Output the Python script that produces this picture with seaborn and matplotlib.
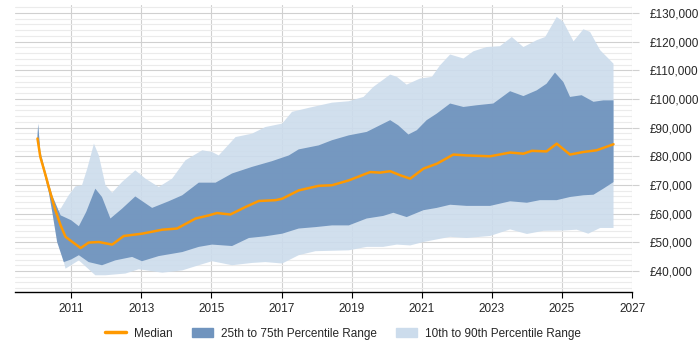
import numpy as np
import seaborn as sns
import matplotlib.pyplot as plt
import matplotlib.ticker as mticker
from matplotlib.patches import Patch
from matplotlib.lines import Line2D

sns.set_style("white")
plt.rcParams['font.family'] = ['Liberation Sans', 'DejaVu Sans']

# median salary
med_x = [2010.04, 2010.12, 2010.27, 2010.36, 2010.55, 2010.7, 2010.84, 2011.27, 2011.5, 2011.79,
         2012.17, 2012.5, 2013.02, 2013.6, 2014.02, 2014.55, 2014.93, 2015.16, 2015.54, 2015.97,
         2016.35, 2016.83, 2017.02, 2017.49, 2018.06, 2018.44, 2018.92, 2019.53, 2019.81, 2020.1,
         2020.38, 2020.67, 2021.05, 2021.43, 2021.9, 2022.28, 2022.95, 2023.52, 2023.9, 2024.14,
         2024.56, 2024.85, 2025.23, 2025.61, 2025.99, 2026.47]
med_y = [86200, 79800, 73400, 69300, 61200, 55900, 51900, 48000, 49900, 50100,
         49200, 52200, 53000, 54400, 54800, 58300, 59400, 60200, 59700, 62300,
         64400, 64700, 65200, 68100, 69700, 69900, 71600, 74500, 74300, 74800,
         73400, 72200, 75700, 77400, 80600, 80300, 80000, 81300, 80900, 81900,
         81700, 84400, 80600, 81500, 82100, 84200]

# 75th percentile
p75_x = [2010.04, 2010.06, 2010.12, 2010.27, 2010.46, 2010.7, 2011.0, 2011.22, 2011.43, 2011.69,
         2011.88, 2012.12, 2012.45, 2012.83, 2013.31, 2013.78, 2014.17, 2014.64, 2015.12, 2015.59,
         2016.16, 2016.73, 2017.21, 2017.49, 2018.06, 2018.44, 2018.92, 2019.43, 2020.1, 2020.33,
         2020.62, 2020.86, 2021.14, 2021.43, 2021.81, 2022.19, 2022.57, 2023.04, 2023.52, 2023.9,
         2024.28, 2024.56, 2024.8, 2025.04, 2025.23, 2025.56, 2025.9, 2026.18, 2026.47]
p75_y = [87000, 91400, 81500, 74500, 66400, 59400, 57700, 55600, 60600, 68700,
         65800, 58300, 61700, 66000, 62000, 64300, 66400, 70800, 70800, 74000,
         76300, 78300, 80300, 82400, 83800, 85600, 87300, 88500, 92600, 90800,
         87600, 89100, 92600, 94900, 98400, 97200, 97800, 98400, 102700, 101000,
         103000, 105300, 109200, 105900, 100700, 101300, 99000, 99500, 99500]

# 25th percentile
p25_x = [2010.04, 2010.17, 2010.36, 2010.46, 2010.6, 2010.79, 2011.0, 2011.22, 2011.5, 2011.88,
         2012.26, 2012.74, 2013.02, 2013.5, 2014.17, 2014.64, 2015.02, 2015.59, 2016.07, 2016.54,
         2017.02, 2017.49, 2017.97, 2018.44, 2018.92, 2019.43, 2019.9, 2020.19, 2020.57, 2021.05,
         2021.43, 2021.81, 2022.28, 2022.95, 2023.52, 2024.0, 2024.37, 2024.85, 2025.23, 2025.61,
         2025.9, 2026.18, 2026.47]
p25_y = [86000, 76900, 67600, 60600, 50100, 43100, 44000, 45500, 43100, 42000,
         43700, 44900, 43400, 45200, 46600, 48400, 49200, 48700, 51500, 52100,
         53000, 54800, 55300, 55900, 55900, 58300, 59200, 60300, 58800, 61200,
         62000, 63100, 62700, 62700, 64300, 63800, 64700, 64700, 65800, 66400,
         66600, 68700, 71000]

# 90th percentile
p90_x = [2010.04, 2010.06, 2010.12, 2010.36, 2010.6, 2010.7, 2010.93, 2011.12, 2011.31, 2011.46,
         2011.65, 2011.79, 2011.98, 2012.17, 2012.45, 2012.83, 2013.12, 2013.5, 2013.88, 2014.26,
         2014.74, 2015.02, 2015.21, 2015.69, 2016.16, 2016.54, 2017.02, 2017.3, 2017.78, 2018.44,
         2018.92, 2019.34, 2019.62, 2020.1, 2020.29, 2020.57, 2020.95, 2021.29, 2021.52, 2021.81,
         2022.19, 2022.47, 2022.85, 2023.23, 2023.57, 2023.9, 2024.28, 2024.52, 2024.85, 2025.04,
         2025.33, 2025.61, 2025.8, 2026.09, 2026.47]
p90_y = [87000, 90800, 82100, 69900, 60600, 61700, 66400, 69500, 69900, 75700,
         84400, 80300, 69900, 67300, 71000, 75100, 72200, 69300, 72200, 78600,
         82100, 81500, 80300, 86700, 87900, 90200, 91400, 95500, 96900, 98700,
         99200, 100700, 104200, 108500, 107700, 105000, 107100, 107700, 111700, 115500,
         114100, 116600, 118100, 118400, 121600, 118100, 120500, 121600, 128600, 126900,
         120100, 124300, 123400, 117000, 112300]

# 10th percentile
p10_x = [2010.04, 2010.27, 2010.46, 2010.6, 2010.84, 2011.22, 2011.69, 2011.98, 2012.55, 2012.93,
         2013.6, 2014.17, 2014.64, 2015.02, 2015.59, 2016.16, 2016.54, 2017.02, 2017.49, 2017.97,
         2018.92, 2019.43, 2019.9, 2020.29, 2020.67, 2021.05, 2021.43, 2021.81, 2022.28, 2022.95,
         2023.52, 2024.0, 2024.47, 2025.04, 2025.42, 2025.75, 2026.09, 2026.47]
p10_y = [86000, 72200, 62900, 52400, 40800, 43700, 38500, 38500, 39100, 40600,
         39400, 40200, 42000, 43400, 42000, 42800, 43100, 42600, 45500, 46900,
         47200, 48400, 48400, 49200, 48900, 50100, 51000, 51900, 51500, 52200,
         54500, 52900, 54000, 54100, 54400, 53000, 55000, 55000]

light = "#ccdcec"
dark = "#7094be"
orange = "#ff9900"

fig = plt.figure(figsize=(7, 3.5), dpi=100)
ax = fig.add_axes([0.021, 0.166, 0.882, 0.82])

ax.fill(np.concatenate([p90_x, p10_x[::-1]]), np.concatenate([p90_y, p10_y[::-1]]),
        color=light, lw=0, alpha=0.9, zorder=2)
ax.fill(np.concatenate([p75_x, p25_x[::-1]]), np.concatenate([p75_y, p25_y[::-1]]),
        color=dark, lw=0, alpha=0.95, zorder=3)
sns.lineplot(x=med_x, y=med_y, ax=ax, color=orange, lw=1.8, zorder=4)

ax.set_xlim(2009.39, 2027)
ax.set_ylim(32700, 132800)
ax.xaxis.set_major_locator(mticker.MultipleLocator(2, offset=1))
ax.xaxis.set_major_formatter(mticker.FormatStrFormatter("%d"))
ax.yaxis.set_major_locator(mticker.MultipleLocator(10000))
ax.yaxis.set_minor_locator(mticker.MultipleLocator(2000))
ax.yaxis.set_major_formatter(mticker.FuncFormatter(lambda v, p: "£{:,.0f}".format(v)))
ax.yaxis.tick_right()

ax.grid(which="major", axis="both", color="#d0d0d0", lw=0.8, zorder=0)
ax.grid(which="minor", axis="y", color="#ebebeb", lw=0.8, zorder=0)
ax.set_axisbelow(True)
for s in ["top", "left", "right"]:
    ax.spines[s].set_visible(False)
ax.spines["bottom"].set_color("black")
ax.spines["bottom"].set_linewidth(1.0)
ax.tick_params(axis="y", which="major", right=True, length=5, color="#d0d0d0",
               labelsize=8.5, pad=8)
ax.tick_params(axis="y", which="minor", right=False, length=0)
ax.tick_params(axis="x", bottom=True, length=4, color="black", labelsize=8.5, pad=4)

handles = [Line2D([], [], color=orange, lw=2.5),
           Patch(color=dark), Patch(color=light)]
labels = ["Median", "25th to 75th Percentile Range", "10th to 90th Percentile Range"]
fig.legend(handles, labels, loc="center", bbox_to_anchor=(0.49, 0.047), ncol=3,
           frameon=False, fontsize=8.5, handlelength=1.8, columnspacing=1.6, handletextpad=0.7)

fig.savefig("out.png", dpi=100)
